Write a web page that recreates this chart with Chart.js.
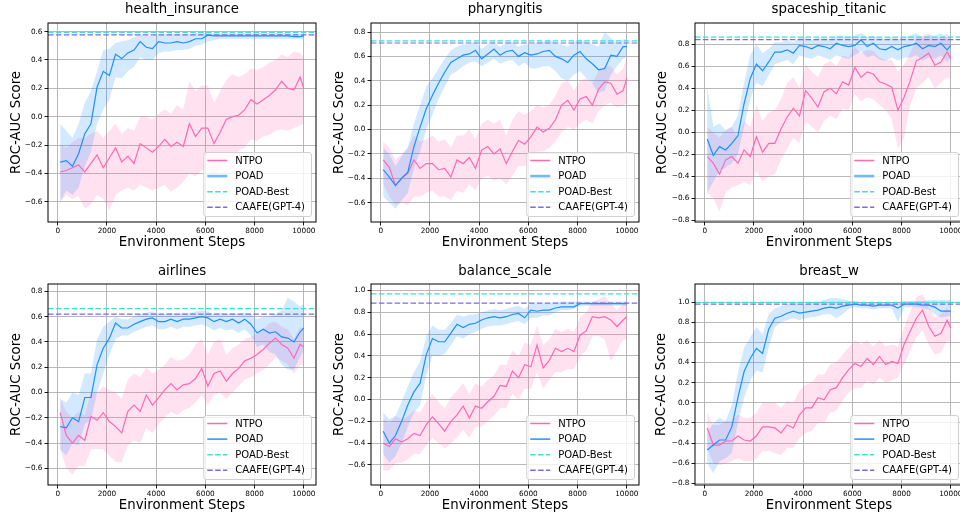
<!DOCTYPE html>
<html>
<head>
  <title>ROC-AUC Score vs Environment Steps</title>
  <script src="https://cdn.jsdelivr.net/npm/chart.js@4"></script>
  <style>
    html, body { margin: 0; padding: 0; background: #fff; }
    body { position: relative; width: 960px; height: 516px; overflow: hidden; }
    .panel { position: absolute; }
  </style>
</head>
<body>
  <canvas class="panel" id="c0"></canvas>
  <canvas class="panel" id="c1"></canvas>
  <canvas class="panel" id="c2"></canvas>
  <canvas class="panel" id="c3"></canvas>
  <canvas class="panel" id="c4"></canvas>
  <canvas class="panel" id="c5"></canvas>
<script>

    // x positions of the sampled points
    const STEPS = [100, 350, 600, 850, 1100, 1350, 1600, 1850, 2100, 2350, 2600, 2850, 3100, 3350, 3600, 3850,
      4100, 4350, 4600, 4850, 5100, 5350, 5600, 5850, 6100, 6350, 6600, 6850, 7100, 7350, 7600, 7850,
      8100, 8350, 8600, 8850, 9100, 9350, 9600, 9850, 10000];
    const X_TICKS = [0, 2000, 4000, 6000, 8000, 10000];
    const X_MIN = -395;
    const X_MAX = 10495;

    const TITLES = ['health_insurance', 'pharyngitis', 'spaceship_titanic', 'airlines', 'balance_scale', 'breast_w'];
    const POAD_BEST = [0.595, 0.728, 0.865, 0.663, 0.97, 0.997];
    const CAAFE_GPT4 = [0.577, 0.71, 0.842, 0.62, 0.885, 0.98];

    // health_insurance
    const HEALTH_NTPO = [-0.39,-0.38,-0.36,-0.34,-0.39,-0.33,-0.27,-0.36,-0.29,-0.22,-0.32,-0.28,-0.33,-0.19,-0.22,-0.25,-0.21,-0.16,-0.21,-0.18,-0.21,-0.05,-0.14,-0.08,-0.08,-0.19,-0.11,-0.02,0.00,0.01,0.05,0.12,0.09,0.12,0.15,0.19,0.25,0.20,0.19,0.28,0.20];
    const HEALTH_NTPO_LO = [-0.60,-0.55,-0.58,-0.56,-0.65,-0.62,-0.55,-0.58,-0.66,-0.55,-0.52,-0.50,-0.52,-0.48,-0.50,-0.52,-0.50,-0.48,-0.53,-0.50,-0.46,-0.40,-0.42,-0.38,-0.36,-0.42,-0.36,-0.30,-0.28,-0.24,-0.22,-0.16,-0.17,-0.14,-0.13,-0.10,-0.09,-0.10,-0.08,-0.06,-0.05];
    const HEALTH_NTPO_HI = [-0.20,-0.22,-0.18,-0.15,-0.15,-0.12,-0.10,-0.15,-0.10,-0.05,-0.12,-0.08,-0.10,0.00,0.00,-0.02,0.02,0.05,0.02,0.08,0.05,0.25,0.18,0.22,0.22,0.10,0.18,0.26,0.30,0.28,0.30,0.34,0.33,0.35,0.38,0.40,0.44,0.42,0.46,0.45,0.42];
    const HEALTH_POAD = [-0.32,-0.31,-0.35,-0.26,-0.12,-0.05,0.21,0.32,0.29,0.44,0.41,0.45,0.47,0.53,0.49,0.48,0.53,0.52,0.52,0.53,0.52,0.53,0.55,0.55,0.575,0.57,0.57,0.57,0.57,0.57,0.57,0.57,0.57,0.57,0.57,0.57,0.57,0.57,0.565,0.565,0.57];
    const HEALTH_POAD_LO = [-0.60,-0.52,-0.55,-0.50,-0.35,-0.25,-0.05,0.05,0.12,0.28,0.27,0.32,0.35,0.42,0.40,0.40,0.45,0.46,0.46,0.47,0.47,0.48,0.50,0.51,0.53,0.54,0.55,0.55,0.55,0.55,0.55,0.55,0.55,0.55,0.55,0.55,0.55,0.55,0.55,0.55,0.55];
    const HEALTH_POAD_HI = [-0.05,-0.10,-0.15,-0.05,0.10,0.18,0.32,0.47,0.48,0.52,0.53,0.54,0.56,0.58,0.57,0.57,0.58,0.58,0.58,0.58,0.58,0.58,0.59,0.59,0.59,0.59,0.59,0.59,0.59,0.59,0.59,0.59,0.59,0.59,0.59,0.59,0.59,0.59,0.585,0.585,0.585];
    const HEALTH_Y_TICKS = [-0.6, -0.4, -0.2, 0.0, 0.2, 0.4, 0.6];

    // pharyngitis
    const PHAR_NTPO = [-0.25,-0.31,-0.46,-0.40,-0.36,-0.25,-0.32,-0.28,-0.28,-0.33,-0.32,-0.39,-0.25,-0.28,-0.23,-0.32,-0.17,-0.14,-0.20,-0.16,-0.28,-0.18,-0.09,-0.12,-0.06,0.02,-0.02,0.01,0.08,0.20,0.24,0.16,0.25,0.27,0.20,0.33,0.39,0.38,0.29,0.32,0.42];
    const PHAR_NTPO_LO = [-0.45,-0.55,-0.62,-0.60,-0.62,-0.55,-0.55,-0.52,-0.50,-0.55,-0.55,-0.58,-0.50,-0.52,-0.45,-0.50,-0.40,-0.38,-0.42,-0.40,-0.45,-0.38,-0.30,-0.30,-0.25,-0.18,-0.18,-0.15,-0.10,-0.02,0.02,0.00,0.05,0.08,0.05,0.15,0.20,0.22,0.18,0.20,0.22];
    const PHAR_NTPO_HI = [-0.10,-0.15,-0.25,-0.20,-0.15,-0.05,-0.10,-0.08,-0.05,-0.10,-0.08,-0.15,-0.05,-0.05,0.00,-0.08,0.05,0.08,0.05,0.08,-0.05,0.08,0.15,0.12,0.15,0.20,0.18,0.20,0.28,0.38,0.40,0.32,0.40,0.42,0.38,0.48,0.52,0.52,0.45,0.50,0.60];
    const PHAR_POAD = [-0.33,-0.39,-0.46,-0.40,-0.35,-0.14,0.02,0.17,0.28,0.38,0.47,0.55,0.58,0.61,0.62,0.65,0.58,0.62,0.66,0.61,0.64,0.65,0.60,0.63,0.61,0.62,0.64,0.65,0.60,0.58,0.55,0.61,0.64,0.58,0.54,0.49,0.50,0.61,0.60,0.68,0.68];
    const PHAR_POAD_LO = [-0.55,-0.60,-0.65,-0.58,-0.52,-0.32,-0.18,0.00,0.12,0.25,0.35,0.45,0.48,0.52,0.55,0.56,0.52,0.55,0.58,0.54,0.56,0.57,0.52,0.55,0.50,0.50,0.52,0.52,0.48,0.42,0.40,0.45,0.48,0.42,0.38,0.30,0.32,0.45,0.52,0.58,0.60];
    const PHAR_POAD_HI = [-0.15,-0.20,-0.30,-0.22,-0.15,0.05,0.20,0.35,0.42,0.50,0.58,0.65,0.68,0.70,0.70,0.72,0.66,0.70,0.72,0.68,0.71,0.72,0.68,0.70,0.70,0.71,0.72,0.74,0.71,0.70,0.68,0.72,0.74,0.72,0.70,0.68,0.80,0.75,0.70,0.74,0.74];
    const PHAR_Y_TICKS = [-0.6, -0.4, -0.2, 0.0, 0.2, 0.4, 0.6, 0.8];

    // spaceship_titanic
    const SHIP_NTPO = [-0.22,-0.28,-0.38,-0.25,-0.22,-0.28,-0.16,-0.22,-0.04,-0.18,-0.10,-0.10,0.03,0.14,0.22,0.15,0.38,0.31,0.23,0.37,0.40,0.35,0.46,0.43,0.59,0.50,0.55,0.53,0.46,0.44,0.41,0.20,0.32,0.47,0.65,0.68,0.72,0.61,0.64,0.73,0.67];
    const SHIP_NTPO_LO = [-0.55,-0.60,-0.72,-0.55,-0.50,-0.48,-0.45,-0.48,-0.35,-0.45,-0.40,-0.38,-0.25,-0.15,-0.05,-0.10,0.10,0.05,0.00,0.10,0.15,0.12,0.22,0.20,0.35,0.28,0.32,0.30,0.25,0.20,0.12,-0.15,-0.05,0.25,0.40,0.45,0.50,0.40,0.45,0.50,0.48];
    const SHIP_NTPO_HI = [0.05,0.00,-0.05,0.02,0.05,-0.05,0.10,0.05,0.25,0.10,0.18,0.20,0.30,0.45,0.50,0.40,0.62,0.55,0.50,0.62,0.65,0.60,0.70,0.68,0.78,0.72,0.75,0.74,0.68,0.66,0.66,0.55,0.62,0.72,0.86,0.88,0.90,0.85,0.86,0.90,0.84];
    const SHIP_POAD = [-0.06,-0.21,-0.13,-0.16,-0.10,-0.03,0.26,0.49,0.62,0.56,0.64,0.73,0.73,0.75,0.72,0.79,0.78,0.76,0.79,0.78,0.76,0.81,0.79,0.78,0.79,0.84,0.78,0.81,0.76,0.75,0.78,0.75,0.78,0.79,0.81,0.76,0.79,0.78,0.81,0.75,0.79];
    const SHIP_POAD_LO = [-0.55,-0.45,-0.35,-0.32,-0.28,-0.20,0.05,0.30,0.45,0.42,0.52,0.62,0.64,0.66,0.62,0.70,0.68,0.67,0.70,0.68,0.66,0.70,0.68,0.67,0.70,0.74,0.68,0.70,0.66,0.65,0.68,0.65,0.68,0.68,0.70,0.65,0.68,0.67,0.70,0.64,0.68];
    const SHIP_POAD_HI = [0.42,0.05,0.08,0.02,0.05,0.15,0.45,0.70,0.80,0.72,0.76,0.82,0.82,0.84,0.82,0.86,0.86,0.84,0.86,0.86,0.85,0.88,0.88,0.87,0.88,0.90,0.87,0.88,0.86,0.85,0.87,0.85,0.87,0.88,0.90,0.86,0.88,0.88,0.90,0.86,0.88];
    const SHIP_Y_TICKS = [-0.8, -0.6, -0.4, -0.2, 0.0, 0.2, 0.4, 0.6, 0.8];

    // airlines
    const AIR_NTPO = [-0.16,-0.34,-0.40,-0.34,-0.38,-0.19,-0.22,-0.16,-0.23,-0.27,-0.32,-0.15,-0.10,-0.15,-0.02,-0.10,-0.04,0.02,0.07,0.02,0.06,0.07,0.11,0.19,0.05,0.15,0.17,0.09,0.15,0.19,0.25,0.27,0.30,0.34,0.39,0.43,0.38,0.35,0.27,0.38,0.36];
    const AIR_NTPO_LO = [-0.45,-0.60,-0.65,-0.58,-0.58,-0.45,-0.45,-0.45,-0.50,-0.55,-0.55,-0.42,-0.38,-0.40,-0.28,-0.32,-0.25,-0.20,-0.15,-0.18,-0.14,-0.12,-0.08,-0.02,-0.10,-0.02,0.00,-0.05,0.00,0.05,0.10,0.12,0.15,0.18,0.22,0.28,0.25,0.22,0.15,0.22,0.22];
    const AIR_NTPO_HI = [-0.05,-0.15,-0.20,-0.15,-0.18,0.00,0.00,0.05,0.02,0.00,-0.05,0.10,0.15,0.12,0.20,0.15,0.18,0.22,0.28,0.25,0.26,0.30,0.38,0.42,0.30,0.40,0.42,0.30,0.35,0.38,0.42,0.44,0.46,0.50,0.55,0.56,0.52,0.50,0.42,0.52,0.50];
    const AIR_POAD = [-0.27,-0.28,-0.20,-0.23,-0.04,-0.04,0.22,0.35,0.43,0.55,0.51,0.51,0.54,0.56,0.58,0.59,0.56,0.56,0.58,0.56,0.58,0.58,0.59,0.60,0.59,0.56,0.58,0.56,0.58,0.55,0.58,0.54,0.47,0.50,0.47,0.48,0.44,0.43,0.40,0.48,0.51];
    const AIR_POAD_LO = [-0.45,-0.50,-0.40,-0.42,-0.25,-0.22,0.00,0.15,0.30,0.42,0.45,0.45,0.48,0.50,0.52,0.53,0.50,0.50,0.52,0.50,0.52,0.52,0.53,0.54,0.52,0.49,0.51,0.49,0.50,0.47,0.50,0.45,0.36,0.38,0.32,0.30,0.22,0.18,0.18,0.28,0.33];
    const AIR_POAD_HI = [-0.05,-0.08,0.00,-0.02,0.15,0.15,0.42,0.52,0.56,0.60,0.58,0.58,0.60,0.62,0.63,0.64,0.62,0.62,0.63,0.62,0.63,0.63,0.64,0.65,0.64,0.62,0.63,0.62,0.63,0.62,0.63,0.62,0.58,0.60,0.60,0.62,0.65,0.75,0.72,0.68,0.70];
    const AIR_Y_TICKS = [-0.6, -0.4, -0.2, 0.0, 0.2, 0.4, 0.6, 0.8];

    // balance_scale
    const BAL_NTPO = [-0.40,-0.43,-0.36,-0.39,-0.36,-0.31,-0.33,-0.23,-0.16,-0.22,-0.29,-0.20,-0.14,-0.06,-0.17,-0.06,-0.08,-0.02,0.03,0.13,0.12,0.26,0.20,0.32,0.30,0.50,0.29,0.36,0.47,0.44,0.47,0.44,0.59,0.63,0.76,0.75,0.76,0.73,0.67,0.73,0.76];
    const BAL_NTPO_LO = [-0.65,-0.65,-0.58,-0.58,-0.55,-0.50,-0.50,-0.42,-0.35,-0.40,-0.45,-0.40,-0.35,-0.28,-0.35,-0.25,-0.25,-0.20,-0.15,-0.08,-0.08,0.05,0.00,0.10,0.10,0.25,0.10,0.18,0.25,0.25,0.28,0.28,0.40,0.45,0.58,0.58,0.55,0.35,0.45,0.55,0.55];
    const BAL_NTPO_HI = [-0.18,-0.22,-0.15,-0.18,-0.15,-0.10,-0.12,-0.02,0.05,-0.02,-0.08,0.02,0.08,0.15,0.05,0.15,0.12,0.18,0.22,0.32,0.32,0.45,0.40,0.52,0.50,0.68,0.50,0.55,0.65,0.62,0.65,0.62,0.75,0.80,0.90,0.92,0.95,0.88,0.82,0.88,0.92];
    const BAL_POAD = [-0.29,-0.40,-0.33,-0.20,-0.05,0.07,0.15,0.41,0.56,0.53,0.53,0.61,0.69,0.66,0.69,0.70,0.73,0.75,0.76,0.75,0.76,0.78,0.79,0.75,0.82,0.81,0.82,0.82,0.84,0.85,0.85,0.85,0.88,0.88,0.88,0.88,0.88,0.88,0.88,0.88,0.88];
    const BAL_POAD_LO = [-0.50,-0.58,-0.52,-0.40,-0.25,-0.12,-0.05,0.22,0.40,0.40,0.42,0.50,0.58,0.56,0.60,0.62,0.65,0.67,0.68,0.68,0.69,0.71,0.72,0.69,0.75,0.75,0.77,0.77,0.80,0.82,0.82,0.83,0.86,0.86,0.86,0.86,0.86,0.86,0.86,0.86,0.86];
    const BAL_POAD_HI = [-0.12,-0.18,-0.15,-0.02,0.12,0.25,0.35,0.58,0.68,0.64,0.64,0.70,0.78,0.76,0.78,0.78,0.80,0.82,0.83,0.82,0.83,0.85,0.86,0.83,0.88,0.88,0.88,0.88,0.89,0.90,0.90,0.90,0.90,0.90,0.90,0.90,0.90,0.90,0.90,0.90,0.90];
    const BAL_Y_TICKS = [-0.6, -0.4, -0.2, 0.0, 0.2, 0.4, 0.6, 0.8, 1.0];

    // breast_w
    const BREAST_NTPO = [-0.25,-0.42,-0.42,-0.38,-0.38,-0.33,-0.37,-0.38,-0.33,-0.24,-0.24,-0.25,-0.30,-0.22,-0.25,-0.12,-0.05,-0.05,0.05,0.03,0.13,0.15,0.25,0.33,0.39,0.36,0.44,0.38,0.46,0.38,0.41,0.39,0.58,0.71,0.84,0.92,0.76,0.66,0.69,0.82,0.74];
    const BREAST_NTPO_LO = [-0.45,-0.60,-0.62,-0.60,-0.58,-0.55,-0.58,-0.58,-0.55,-0.48,-0.48,-0.50,-0.52,-0.45,-0.45,-0.35,-0.30,-0.28,-0.20,-0.20,-0.10,-0.08,0.02,0.10,0.15,0.15,0.22,0.18,0.25,0.20,0.22,0.25,0.38,0.52,0.65,0.72,0.58,0.48,0.50,0.62,0.58];
    const BREAST_NTPO_HI = [-0.10,-0.22,-0.22,-0.18,-0.18,-0.12,-0.15,-0.15,-0.10,0.00,0.00,0.00,-0.05,0.02,0.00,0.12,0.18,0.20,0.28,0.28,0.38,0.40,0.48,0.55,0.62,0.58,0.62,0.56,0.62,0.56,0.58,0.56,0.75,0.90,1.05,1.08,0.95,0.85,0.88,0.95,0.90];
    const BREAST_POAD = [-0.47,-0.42,-0.37,-0.37,-0.24,0.05,0.31,0.44,0.54,0.49,0.73,0.84,0.86,0.89,0.91,0.89,0.90,0.91,0.92,0.94,0.95,0.94,0.96,0.97,0.98,0.97,0.97,0.96,0.97,0.97,0.97,0.94,0.98,0.98,0.98,0.97,0.97,0.95,0.91,0.91,0.91];
    const BREAST_POAD_LO = [-0.60,-0.70,-0.58,-0.55,-0.50,-0.20,0.05,0.22,0.32,0.30,0.55,0.75,0.80,0.82,0.84,0.82,0.84,0.85,0.86,0.88,0.88,0.84,0.88,0.93,0.95,0.94,0.94,0.93,0.94,0.94,0.94,0.80,0.95,0.95,0.95,0.94,0.93,0.88,0.85,0.86,0.86];
    const BREAST_POAD_HI = [-0.30,-0.20,-0.15,-0.18,-0.02,0.30,0.55,0.65,0.75,0.68,0.88,0.94,0.96,0.98,1.00,0.98,0.98,1.00,1.00,1.02,1.04,1.04,1.03,1.01,1.01,1.00,1.00,1.00,1.00,1.00,1.00,1.00,1.01,1.01,1.01,1.01,1.02,1.02,1.02,1.02,1.02];
    const BREAST_Y_TICKS = [-0.8, -0.6, -0.4, -0.2, 0.0, 0.2, 0.4, 0.6, 0.8, 1.0];

    const PANELS = [
      { ntpo: [HEALTH_NTPO, HEALTH_NTPO_LO, HEALTH_NTPO_HI], poad: [HEALTH_POAD, HEALTH_POAD_LO, HEALTH_POAD_HI], yTicks: HEALTH_Y_TICKS, yMin: -0.743, yMax: 0.661 },
      { ntpo: [PHAR_NTPO, PHAR_NTPO_LO, PHAR_NTPO_HI], poad: [PHAR_POAD, PHAR_POAD_LO, PHAR_POAD_HI], yTicks: PHAR_Y_TICKS, yMin: -0.759, yMax: 0.874 },
      { ntpo: [SHIP_NTPO, SHIP_NTPO_LO, SHIP_NTPO_HI], poad: [SHIP_POAD, SHIP_POAD_LO, SHIP_POAD_HI], yTicks: SHIP_Y_TICKS, yMin: -0.815, yMax: 0.994 },
      { ntpo: [AIR_NTPO, AIR_NTPO_LO, AIR_NTPO_HI], poad: [AIR_POAD, AIR_POAD_LO, AIR_POAD_HI], yTicks: AIR_Y_TICKS, yMin: -0.732, yMax: 0.858 },
      { ntpo: [BAL_NTPO, BAL_NTPO_LO, BAL_NTPO_HI], poad: [BAL_POAD, BAL_POAD_LO, BAL_POAD_HI], yTicks: BAL_Y_TICKS, yMin: -0.784, yMax: 1.06 },
      { ntpo: [BREAST_NTPO, BREAST_NTPO_LO, BREAST_NTPO_HI], poad: [BREAST_POAD, BREAST_POAD_LO, BREAST_POAD_HI], yTicks: BREAST_Y_TICKS, yMin: -0.817, yMax: 1.18 }
    ];

    // where each subplot sits on the page (area = left, top, right, bottom inside the canvas)
    const BOXES = [
      { left: 0,   top: 0,   w: 320, area: [48, 23, 316, 222], yTitleX: 16.5, titleY: 9.5,  xTitleY: 242.7, wideHandle: true },
      { left: 320, top: 0,   w: 322, area: [51, 23, 319, 222], yTitleX: 19.3, titleY: 9.5,  xTitleY: 242.7, wideHandle: true },
      { left: 640, top: 0,   w: 330, area: [55, 23, 323, 222], yTitleX: 22.5, titleY: 9.5,  xTitleY: 242.7, wideHandle: true },
      { left: 0,   top: 258, w: 320, area: [48, 26, 316, 227], yTitleX: 16.3, titleY: 13.3, xTitleY: 247.3, wideHandle: false },
      { left: 320, top: 258, w: 322, area: [51, 26, 319, 227], yTitleX: 19.3, titleY: 13.3, xTitleY: 247.3, wideHandle: false },
      { left: 640, top: 258, w: 330, area: [55, 26, 323, 227], yTitleX: 21.3, titleY: 13.3, xTitleY: 247.3, wideHandle: false }
    ];
    const H = 258;
    const FONT = 'DejaVu Sans';
    const PINK = '#ff69b4';
    const BLUE = '#1e90ff';
    const TURQ = '#40e0d0';
    const PURPLE = '#7b68ee';
    const DASH = [5.5, 2.4];

    // black frame around the axes plus matplotlib style legend in the lower right
    const frameLegend = {
      id: 'frameLegend',
      afterDraw(chart, args, opts) {
        const ctx = chart.ctx;
        const a = chart.chartArea;
        ctx.save();
        ctx.strokeStyle = '#000';
        ctx.lineWidth = 1;
        ctx.strokeRect(a.left, a.top, a.right - a.left, a.bottom - a.top);

        const items = chart.data.datasets.filter(d => d.label);
        ctx.font = '10px "' + FONT + '"';
        const textW = Math.max(...items.map(d => ctx.measureText(d.label).width));
        const w = 32 + textW + 6;
        const h = 64;
        const x0 = a.right - 5 - w;
        const y0 = a.bottom - 6 - h;
        ctx.beginPath();
        ctx.roundRect(x0 + 0.5, y0 + 0.5, w, h, 2.5);
        ctx.fillStyle = 'rgba(255,255,255,0.8)';
        ctx.fill();
        ctx.strokeStyle = '#d0d0d0';
        ctx.stroke();

        ctx.textBaseline = 'middle';
        ctx.textAlign = 'left';
        items.forEach((d, i) => {
          const y = y0 + 8.5 + i * 15.6;
          ctx.beginPath();
          let color = d.borderColor, lw = 1.5;
          if (d.label === 'POAD' && opts.wideHandle) { color = '#70b8ff'; lw = 2.6; }
          ctx.strokeStyle = color;
          ctx.lineWidth = lw;
          ctx.setLineDash(d.borderDash || []);
          ctx.moveTo(x0 + 4, y);
          ctx.lineTo(x0 + 24, y);
          ctx.stroke();
          ctx.setLineDash([]);
          ctx.fillStyle = '#000';
          ctx.fillText(d.label, x0 + 32, y + 0.5);
        });
        ctx.restore();
      }
    };

    function series(values) {
      return STEPS.map((s, i) => ({ x: s, y: values[i] }));
    }

    function fmtY(v) {
      return v.toFixed(1).replace('-', '\u2212');
    }

    function makeChart(p) {
      const panel = PANELS[p];
      const box = BOXES[p];
      const canvas = document.getElementById('c' + p);
      canvas.width = box.w;
      canvas.height = H;
      canvas.style.left = box.left + 'px';
      canvas.style.top = box.top + 'px';
      const [l, t, r, b] = box.area;
      const lh = 13.3 * 1.2;

      const bandBase = { pointRadius: 0, borderWidth: 0, tension: 0 };
      const datasets = [
        Object.assign({ data: series(panel.ntpo[1]), fill: false, order: 6 }, bandBase),
        Object.assign({ data: series(panel.ntpo[2]), fill: '-1', backgroundColor: 'rgba(255,105,180,0.2)', order: 6 }, bandBase),
        Object.assign({ data: series(panel.poad[1]), fill: false, order: 5 }, bandBase),
        Object.assign({ data: series(panel.poad[2]), fill: '-1', backgroundColor: 'rgba(30,144,255,0.2)', order: 5 }, bandBase),
        { label: 'NTPO', data: series(panel.ntpo[0]), borderColor: PINK, borderWidth: 1.2, pointRadius: 0, tension: 0, fill: false, order: 4 },
        { label: 'POAD', data: series(panel.poad[0]), borderColor: BLUE, borderWidth: 1.2, pointRadius: 0, tension: 0, fill: false, order: 3 },
        { label: 'POAD-Best', data: [{ x: X_MIN, y: POAD_BEST[p] }, { x: X_MAX, y: POAD_BEST[p] }], borderColor: TURQ, borderDash: DASH, borderWidth: 1.2, pointRadius: 0, fill: false, order: 2 },
        { label: 'CAAFE(GPT-4)', data: [{ x: X_MIN, y: CAAFE_GPT4[p] }, { x: X_MAX, y: CAAFE_GPT4[p] }], borderColor: PURPLE, borderDash: DASH, borderWidth: 1.2, pointRadius: 0, fill: false, order: 1 }
      ];

      return new Chart(canvas, {
        type: 'line',
        data: { datasets: datasets },
        plugins: [frameLegend],
        options: {
          responsive: false,
          animation: false,
          events: [],
          layout: { padding: { left: 0, top: 0, right: box.w - r, bottom: 0 } },
          plugins: {
            legend: { display: false },
            tooltip: { enabled: false },
            filler: { drawTime: 'beforeDatasetsDraw' },
            frameLegend: { wideHandle: box.wideHandle },
            title: {
              display: true,
              text: TITLES[p],
              fullSize: false,
              color: '#000',
              font: { family: FONT, size: 13.3, weight: 'normal' },
              padding: { top: box.titleY - lh / 2, bottom: t - (box.titleY - lh / 2) - lh }
            }
          },
          scales: {
            x: {
              type: 'linear',
              min: X_MIN,
              max: X_MAX,
              afterBuildTicks: s => { s.ticks = X_TICKS.map(v => ({ value: v })); },
              afterFit: s => { s.height = H - b; },
              border: { display: false },
              grid: { color: '#b0b0b0', lineWidth: 0.9, tickLength: 3.5, tickColor: '#000', tickWidth: 0.9 },
              ticks: {
                color: '#000', padding: 1, maxRotation: 0, autoSkip: false,
                font: { family: FONT, size: 7.3 },
                callback: v => String(v)
              },
              title: {
                display: true, text: 'Environment Steps', color: '#000',
                font: { family: FONT, size: 13.3 },
                padding: { top: 0, bottom: H - box.xTitleY - lh / 2 }
              }
            },
            y: {
              type: 'linear',
              min: panel.yMin,
              max: panel.yMax,
              afterBuildTicks: s => { s.ticks = panel.yTicks.map(v => ({ value: v })); },
              afterFit: s => { s.width = l; },
              border: { display: false },
              grid: { color: '#b0b0b0', lineWidth: 0.9, tickLength: 3.5, tickColor: '#000', tickWidth: 0.9 },
              ticks: {
                color: '#000', padding: 2, autoSkip: false,
                font: { family: FONT, size: 7.3 },
                callback: v => fmtY(v)
              },
              title: {
                display: true, text: 'ROC-AUC Score', color: '#000',
                font: { family: FONT, size: 13.3 },
                padding: { top: box.yTitleX - lh / 2, bottom: 0 }
              }
            }
          }
        }
      });
    }

    for (let p = 0; p < PANELS.length; p++) {
      makeChart(p);
    }
  </script>
</body>
</html>
